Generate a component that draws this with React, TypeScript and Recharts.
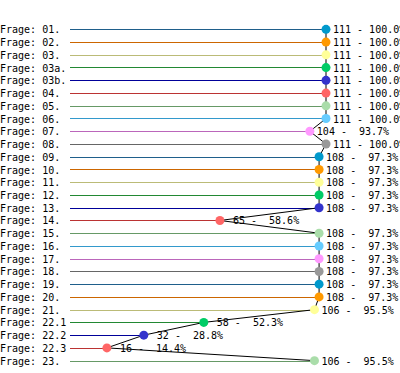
import { ComposedChart, Bar, Line, XAxis, YAxis, LabelList } from 'recharts'

const categories = [
  'Frage: 01.', 'Frage: 02.', 'Frage: 03.', 'Frage: 03a.', 'Frage: 03b.',
  'Frage: 04.', 'Frage: 05.', 'Frage: 06.', 'Frage: 07.', 'Frage: 08.',
  'Frage: 09.', 'Frage: 10.', 'Frage: 11.', 'Frage: 12.', 'Frage: 13.',
  'Frage: 14.', 'Frage: 15.', 'Frage: 16.', 'Frage: 17.', 'Frage: 18.',
  'Frage: 19.', 'Frage: 20.', 'Frage: 21.', 'Frage: 22.1', 'Frage: 22.2',
  'Frage: 22.3', 'Frage: 23.',
]
const counts = [
  111, 111, 111, 111, 111, 111, 111, 111, 104, 111,
  108, 108, 108, 108, 108, 65, 108, 108, 108, 108,
  108, 108, 106, 58, 32, 16, 106,
]
const percents = [
  100.0, 100.0, 100.0, 100.0, 100.0, 100.0, 100.0, 100.0, 93.7, 100.0,
  97.3, 97.3, 97.3, 97.3, 97.3, 58.6, 97.3, 97.3, 97.3, 97.3,
  97.3, 97.3, 95.5, 52.3, 28.8, 14.4, 95.5,
]

// palette cycles every 10 rows: line colour, dot colour
const lineColors = ['#1f5f8b', '#cc6600', '#bbbb77', '#228833', '#000099', '#bb3333', '#669966', '#3399cc', '#bb66bb', '#666666']
const dotColors = ['#0099cc', '#ff9900', '#ffff99', '#00cc66', '#3333cc', '#ff6666', '#aaddaa', '#66ccff', '#ff99ff', '#999999']

const data = categories.map((name, i) => ({ name, count: counts[i], pct: percents[i] }))

const FONT = '"DejaVu Sans Mono", monospace'

const Stick = (props: any) => {
  const { x, y, width, height, index } = props
  const cy = Math.round(y + height / 2) + 0.5
  return (
    <line x1={x} x2={x + width} y1={cy} y2={cy}
      stroke={lineColors[index % 10]} strokeWidth={1} />
  )
}

const Dot = (props: any) => {
  const { cx, cy, index } = props
  return <circle key={index} cx={cx} cy={cy} r={4.5} fill={dotColors[index % 10]} />
}

const Tick = (props: any) => {
  const { y, payload } = props
  return (
    <text x={0} y={y + 4} fontFamily={FONT} fontSize={10} fill="#000">
      {payload.value}
    </text>
  )
}

const ValueLabel = (props: any) => {
  const { x, y, index } = props
  const txt = `${String(counts[index]).padStart(3)} - ${percents[index].toFixed(1).padStart(5)}%`
  return (
    <text x={x + 7} y={y + 4} fontFamily={FONT} fontSize={10} fill="#000"
      style={{ whiteSpace: 'pre' }}>
      {txt}
    </text>
  )
}

export default function App() {
  return (
    <div style={{ position: 'absolute', left: 0, top: 0, background: '#fff' }}>
      <ComposedChart width={400} height={373} data={data} layout="vertical"
        margin={{ top: 23, right: 74, bottom: 6, left: 0 }}>
        <XAxis type="number" dataKey="count" domain={[0, 111]} hide />
        <YAxis type="category" dataKey="name" width={70} axisLine={false}
          tickLine={false} tick={<Tick />} interval={0} />
        <Bar dataKey="count" shape={<Stick />} isAnimationActive={false} />
        <Line dataKey="count" stroke="#000" strokeWidth={1} dot={<Dot />}
          activeDot={false} isAnimationActive={false}>
          <LabelList dataKey="count" content={<ValueLabel />} />
        </Line>
      </ComposedChart>
    </div>
  )
}
